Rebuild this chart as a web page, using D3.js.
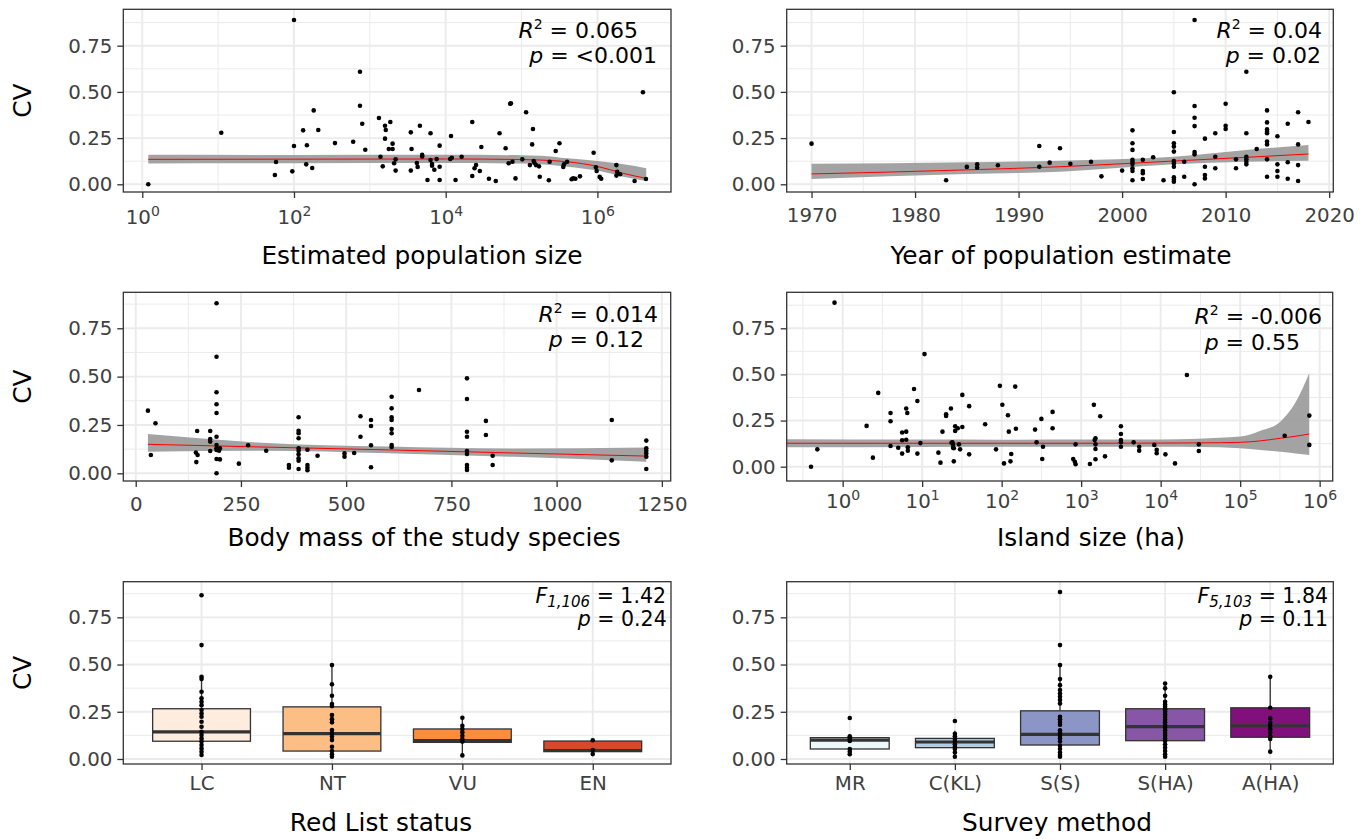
<!DOCTYPE html>
<html>
<head>
<meta charset="utf-8">
<script src="https://cdn.jsdelivr.net/npm/d3@7"></script>
<style>
body { margin: 0; background: #fff; }
text { white-space: pre; }
</style>
</head>
<body>
<script>
// ---- data ----

// panel 1: estimated population size vs CV
var popSize = [1.2, 11, 100, 56, 58, 95, 100, 132, 148, 145,
  174, 182, 209, 347, 603, 741, 741, 794, 871, 1318,
  1380, 1479, 1585, 1622, 1585, 1862, 1778, 1995, 1995, 2188,
  2089, 2188, 3467, 3548, 3467, 4169, 4266, 4571, 4898, 4898,
  5754, 6310, 6310, 6607, 6607, 7079, 7586, 8318, 8318, 8318,
  11750, 11480, 12020, 13490, 16220, 22390, 22390, 23990, 25120, 28180,
  29510, 37150, 45710, 51290, 61660, 67610, 70800, 72440, 75860, 83180,
  102300, 114800, 141300, 138000, 128800, 144500, 147900, 154900, 169800, 173800,
  229100, 234400, 281800, 316200, 354800, 363100, 398100, 457100, 478600, 512900,
  588800, 891300, 955000, 977200, 1071500, 1122000, 1778000, 1820000, 1778000, 1995000,
  3090000, 3981000, 4365000];
var popCV = [0.00, 0.279, 0.889, 0.05, 0.121, 0.07, 0.207, 0.292, 0.211, 0.108,
  0.088, 0.40, 0.294, 0.223, 0.23, 0.609, 0.425, 0.328, 0.187, 0.359,
  0.149, 0.097, 0.317, 0.294, 0.247, 0.337, 0.191, 0.22, 0.191, 0.135,
  0.114, 0.074, 0.281, 0.191, 0.074, 0.115, 0.094, 0.317, 0.159, 0.151,
  0.023, 0.276, 0.131, 0.11, 0.10, 0.079, 0.137, 0.209, 0.095, 0.023,
  0.261, 0.137, 0.144, 0.023, 0.149, 0.337, 0.045, 0.087, 0.104, 0.072,
  0.202, 0.03, 0.018, 0.276, 0.195, 0.114, 0.436, 0.438, 0.122, 0.032,
  0.135, 0.39, 0.299, 0.216, 0.104, 0.126, 0.115, 0.104, 0.097, 0.041,
  0.022, 0.122, 0.18, 0.222, 0.094, 0.108, 0.122, 0.027, 0.032, 0.03,
  0.043, 0.171, 0.092, 0.072, 0.04, 0.03, 0.104, 0.068, 0.047, 0.054,
  0.018, 0.498, 0.029];
var popFitX = [1.2, 100, 10000, 100000, 180000, 400000, 1000000, 2200000, 4400000];
var popFit = [0.135, 0.136, 0.137, 0.134, 0.131, 0.122, 0.097, 0.059, 0.032];
var popLo = [0.113, 0.114, 0.115, 0.112, 0.108, 0.095, 0.074, 0.041, 0.018];
var popHi = [0.160, 0.159, 0.160, 0.157, 0.155, 0.141, 0.126, 0.108, 0.087];

// panel 2: year of estimate vs CV
var yearX = [1970, 1983, 1985, 1986, 1986, 1988, 1992, 1992, 1993, 1994, 1995, 1997, 1998, 2000,
  2001, 2001, 2001, 2001, 2001, 2001, 2001, 2001, 2001,
  2002, 2002, 2002, 2002, 2003, 2004,
  2005, 2005, 2005, 2005, 2005, 2005, 2005, 2005, 2005, 2005, 2005,
  2006, 2006, 2007, 2007, 2007, 2007, 2007, 2007, 2007,
  2008, 2008, 2008, 2008, 2009, 2009, 2009, 2010, 2010, 2010, 2011, 2011,
  2012, 2012, 2012, 2012, 2012, 2012, 2013,
  2014, 2014, 2014, 2014, 2014, 2014, 2014, 2014, 2014,
  2015, 2015, 2015, 2015, 2016, 2016, 2016, 2017, 2017, 2017, 2017, 2018];
var yearCV = [0.22, 0.022, 0.094, 0.108, 0.09, 0.103, 0.207, 0.095, 0.117, 0.195, 0.111, 0.122, 0.043, 0.074,
  0.292, 0.222, 0.186, 0.133, 0.122, 0.110, 0.087, 0.072, 0.022,
  0.133, 0.072, 0.060, 0.029, 0.146, 0.022,
  0.498, 0.283, 0.222, 0.204, 0.177, 0.126, 0.113, 0.095, 0.038, 0.025, 0.014,
  0.122, 0.041, 0.889, 0.424, 0.36, 0.315, 0.175, 0.162, 0.0,
  0.247, 0.095, 0.05, 0.032, 0.276, 0.149, 0.087, 0.436, 0.317, 0.299, 0.135, 0.087,
  0.609, 0.276, 0.149, 0.135, 0.122, 0.108, 0.191,
  0.40, 0.335, 0.297, 0.285, 0.276, 0.231, 0.216, 0.135, 0.041,
  0.26, 0.108, 0.072, 0.041, 0.328, 0.119, 0.03, 0.39, 0.216, 0.104, 0.018, 0.337];
var yearFitX = [1970, 1985, 1994, 2005, 2012, 2018];
var yearFit = [0.056, 0.078, 0.095, 0.126, 0.146, 0.164];
var yearLo = [0.029, 0.056, 0.068, 0.108, 0.122, 0.128];
var yearHi = [0.111, 0.119, 0.128, 0.149, 0.186, 0.213];

// panel 3: body mass vs CV
var massX = [29, 47, 36, 146, 143, 147, 144, 177, 177, 177, 177,
  192, 192, 192, 192, 192, 192, 192, 192, 192, 192, 192, 200, 200, 198,
  245, 267, 310, 364, 364,
  387, 387, 387, 387, 387, 387, 387, 387, 387, 387,
  408, 408, 408, 408, 432, 496, 496, 519, 534, 534, 559, 559, 559, 559,
  608, 608, 608, 608, 608, 608, 608, 608, 673,
  787, 787, 787, 787, 787, 787, 787, 787, 787, 832, 832, 848, 848, 1131, 1131,
  1213, 1213, 1213, 1213, 1213, 1213];
var massCV = [0.324, 0.259, 0.095, 0.219, 0.107, 0.095, 0.058, 0.219, 0.177, 0.164, 0.115,
  0.879, 0.603, 0.419, 0.357, 0.312, 0.189, 0.146, 0.129, 0.121, 0.074, 0.0, 0.129, 0.072, 0.117,
  0.05, 0.145, 0.117, 0.043, 0.029,
  0.29, 0.22, 0.207, 0.181, 0.129, 0.117, 0.098, 0.078, 0.065, 0.022,
  0.122, 0.043, 0.029, 0.016, 0.091, 0.103, 0.086, 0.105, 0.295, 0.189, 0.276, 0.245, 0.145, 0.031,
  0.396, 0.336, 0.29, 0.276, 0.229, 0.207, 0.146, 0.136, 0.431,
  0.491, 0.384, 0.215, 0.189, 0.115, 0.10, 0.043, 0.029, 0.017, 0.271, 0.198, 0.091, 0.043, 0.276, 0.067,
  0.169, 0.129, 0.117, 0.103, 0.086, 0.022];
var massFitX = [29, 300, 600, 900, 1213];
var massFit = [0.150, 0.136, 0.121, 0.105, 0.089];
var massLo = [0.112, 0.117, 0.104, 0.085, 0.060];
var massHi = [0.203, 0.158, 0.138, 0.128, 0.134];

// panel 4: island size vs CV
var islandX = [0.4, 0.48, 0.79, 2.0, 2.4, 2.8, 4.0, 4.0, 4.0, 5.0, 5.6, 5.6, 5.6,
  6.3, 6.3, 6.3, 6.5, 6.6, 6.6, 7.9, 8.7, 8.7, 9.5, 10.7, 16, 17, 18, 20, 20, 23, 25,
  26, 26, 23.4, 24, 24.5, 24.5, 25, 28, 32, 32, 29, 30, 39, 39,
  62, 85, 95, 102, 107, 120, 123, 132, 129, 148, 151,
  263, 275, 316, 331, 324, 437, 437, 851, 851, 794, 832,
  1288, 1445, 1514, 1514, 1514, 1514, 1479, 1738, 1995,
  3162, 3162, 3162, 3162, 3162, 4571, 5370, 5370, 8318, 8913, 8913,
  11480, 15140, 21380, 30200, 30200, 363000, 741000, 741000];
var islandCV = [0.0, 0.094, 0.889, 0.221, 0.049, 0.40, 0.291, 0.246, 0.112, 0.103, 0.185, 0.143, 0.071,
  0.315, 0.19, 0.146, 0.291, 0.105, 0.087, 0.421, 0.356, 0.071, 0.128, 0.61, 0.076, 0.022, 0.19, 0.284, 0.275, 0.315, 0.029,
  0.219, 0.194, 0.13, 0.132, 0.119, 0.103, 0.10, 0.208, 0.215, 0.389, 0.121, 0.094, 0.328, 0.067,
  0.23, 0.094, 0.438, 0.336, 0.018, 0.279, 0.19, 0.069, 0.029, 0.434, 0.206,
  0.201, 0.132, 0.259, 0.108, 0.042, 0.297, 0.208, 0.121, 0.013, 0.042, 0.027,
  0.015, 0.335, 0.154, 0.121, 0.096, 0.04, 0.145, 0.273, 0.056,
  0.219, 0.177, 0.145, 0.132, 0.108, 0.132, 0.108, 0.087, 0.118, 0.091, 0.073,
  0.067, 0.018, 0.497, 0.121, 0.085, 0.168, 0.277, 0.118];
var islandFitX = [0.2, 10, 100, 1000, 10000, 30000, 100000, 180000, 320000, 500000, 740000];
var islandFit = [0.127, 0.127, 0.127, 0.127, 0.128, 0.129, 0.132, 0.140, 0.154, 0.165, 0.177];
var islandLo = [0.105, 0.107, 0.108, 0.108, 0.108, 0.107, 0.100, 0.090, 0.081, 0.072, 0.063];
var islandHi = [0.149, 0.147, 0.146, 0.147, 0.148, 0.152, 0.163, 0.195, 0.244, 0.350, 0.506];

// panel 5: red list status
var rlCats = ["LC", "NT", "VU", "EN"];
var rlLow = [0.012, 0.012, 0.020, 0.026];
var rlQ1 = [0.094, 0.042, 0.088, 0.039];
var rlMed = [0.144, 0.134, 0.098, 0.045];
var rlQ3 = [0.266, 0.276, 0.159, 0.095];
var rlHigh = [0.435, 0.497, 0.218, 0.099];
var rlFill = ["#FEEDDE", "#FDBE85", "#FD8D3C", "#D9482A"];
var lcCV = [0.867, 0.603, 0.435, 0.423, 0.356, 0.321, 0.303, 0.285, 0.259, 0.241, 0.224, 0.197,
  0.171, 0.144, 0.127, 0.109, 0.092, 0.074, 0.056, 0.039, 0.021];
var ntCV = [0.497, 0.396, 0.335, 0.291, 0.28, 0.233, 0.211, 0.194, 0.153, 0.136, 0.118, 0.10,
  0.065, 0.042, 0.025, 0.012];
var vuCV = [0.218, 0.176, 0.159, 0.141, 0.123, 0.106, 0.092, 0.019];
var enCV = [0.099, 0.048, 0.026];

// panel 6: survey method
var svCats = ["MR", "C(KL)", "S(S)", "S(HA)", "A(HA)"];
var svLow = [0.025, 0.012, 0.012, 0.012, 0.039];
var svQ1 = [0.053, 0.060, 0.074, 0.097, 0.115];
var svMed = [0.100, 0.090, 0.130, 0.171, 0.176];
var svQ3 = [0.113, 0.109, 0.255, 0.266, 0.271];
var svHigh = [0.120, 0.150, 0.497, 0.400, 0.435];
var svFill = ["#EDF8FB", "#B3CDE3", "#8C96C6", "#8856A7", "#810F7C"];
var mrCV = [0.217, 0.12, 0.109, 0.095, 0.053, 0.039, 0.025];
var cklCV = [0.201, 0.134, 0.12, 0.106, 0.092, 0.078, 0.065, 0.053, 0.035, 0.012];
var ssCV = [0.884, 0.603, 0.497, 0.423, 0.391, 0.365, 0.347, 0.329, 0.312, 0.294, 0.224, 0.21,
  0.196, 0.181, 0.152, 0.137, 0.123, 0.109, 0.092, 0.07, 0.053, 0.035, 0.021, 0.012];
var shaCV = [0.40, 0.374, 0.335, 0.303, 0.289, 0.277, 0.264, 0.25, 0.236, 0.222, 0.208, 0.194,
  0.18, 0.166, 0.152, 0.137, 0.123, 0.109, 0.095, 0.078, 0.06, 0.042, 0.025, 0.012];
var ahaCV = [0.435, 0.271, 0.215, 0.192, 0.175, 0.157, 0.141, 0.12, 0.106, 0.039];

var yTicks = [0, 0.25, 0.5, 0.75];
var yMinor = [0.125, 0.375, 0.625, 0.875];
var r2Text = ["0.065", "0.04", "0.014", "-0.006"];
var pText = ["<0.001", "0.02", "0.12", "0.55", "0.24", "0.11"];

// ---- drawing ----
var FONT = "DejaVu Sans, sans-serif";
var TICK_FS = 19.8, TITLE_FS = 24.8;
var GRID = "#EBEBEB", INK = "#333333";

var svg = d3.select("body").append("svg")
  .attr("width", 1371).attr("height", 839);
svg.append("rect").attr("width", 1371).attr("height", 839).attr("fill", "white");

function drawGrid(o) {
  var g = svg.append("g");
  g.selectAll("line.xn").data(o.xMinor).enter().append("line").attr("class", "xn")
    .attr("x1", d => o.x(d)).attr("x2", d => o.x(d))
    .attr("y1", o.top).attr("y2", o.bottom)
    .attr("stroke", GRID).attr("stroke-width", 1);
  g.selectAll("line.yn").data(yMinor).enter().append("line").attr("class", "yn")
    .attr("x1", o.left).attr("x2", o.right)
    .attr("y1", d => o.y(d)).attr("y2", d => o.y(d))
    .attr("stroke", GRID).attr("stroke-width", 1);
  g.selectAll("line.xj").data(o.xMajor).enter().append("line").attr("class", "xj")
    .attr("x1", d => o.x(d)).attr("x2", d => o.x(d))
    .attr("y1", o.top).attr("y2", o.bottom)
    .attr("stroke", GRID).attr("stroke-width", 1.9);
  g.selectAll("line.yj").data(yTicks).enter().append("line").attr("class", "yj")
    .attr("x1", o.left).attr("x2", o.right)
    .attr("y1", d => o.y(d)).attr("y2", d => o.y(d))
    .attr("stroke", GRID).attr("stroke-width", 1.9);
}

function drawFrame(o) {
  svg.append("rect").attr("x", o.left).attr("y", o.top)
    .attr("width", o.right - o.left).attr("height", o.bottom - o.top)
    .attr("fill", "none").attr("stroke", INK).attr("stroke-width", 1.3);

  var ya = svg.append("g").attr("transform", "translate(" + o.left + ",0)")
    .call(d3.axisLeft(o.y).tickValues(yTicks).tickFormat(d3.format(".2f")).tickSize(6).tickPadding(5));
  var xa = svg.append("g").attr("transform", "translate(0," + o.bottom + ")")
    .call(d3.axisBottom(o.x).tickValues(o.xMajor).tickFormat(o.fmt || (d => d)).tickSize(6));

  [ya, xa].forEach(function(a) {
    a.select(".domain").remove();
    a.selectAll("line").attr("stroke", INK).attr("stroke-width", 1.3);
    a.selectAll("text").attr("font-family", FONT).attr("font-size", TICK_FS).attr("fill", "#404040");
  });
  xa.selectAll("text").attr("dy", null).attr("y", o.tickBase - o.bottom);

  if (o.log) {
    xa.selectAll("text").each(function(d) {
      var t = d3.select(this).text("");
      t.append("tspan").text("10");
      t.append("tspan").attr("dy", -8.5).attr("font-size", 14).text(Math.round(Math.log10(d)));
    });
  }

  svg.append("text").attr("x", o.titleX).attr("y", o.titleY)
    .attr("text-anchor", "middle").attr("font-family", FONT).attr("font-size", TITLE_FS)
    .attr("fill", "black").text(o.title);

  if (o.cv) {
    var cy = (o.top + o.bottom) / 2;
    svg.append("text").attr("transform", "translate(31," + cy + ") rotate(-90)")
      .attr("text-anchor", "middle").attr("font-family", FONT).attr("font-size", TITLE_FS)
      .attr("fill", "black").text("CV");
  }
}

// parts: [text, italic, baseline shift, font size]
function statLine(x, y, size, parts) {
  var t = svg.append("text").attr("x", x).attr("y", y).attr("text-anchor", "end")
    .attr("font-family", FONT).attr("font-size", size).attr("fill", "black");
  var cur = 0;
  parts.forEach(function(p) {
    var shift = p[2] || 0;
    var sp = t.append("tspan").attr("dy", shift - cur).text(p[0]);
    cur = shift;
    if (p[1]) sp.attr("font-style", "italic");
    if (p[3]) sp.attr("font-size", p[3]);
  });
}

function drawSmooth(o, sx, fit, lo, hi) {
  var pts = sx.map((v, i) => ({x: v, f: fit[i], lo: lo[i], hi: hi[i]}));
  svg.append("path").datum(pts)
    .attr("d", d3.area().x(d => o.x(d.x)).y0(d => o.y(d.lo)).y1(d => o.y(d.hi)).curve(d3.curveMonotoneX))
    .attr("fill", "#999999").attr("opacity", 0.9);
  svg.append("path").datum(pts)
    .attr("d", d3.line().x(d => o.x(d.x)).y(d => o.y(d.f)).curve(d3.curveMonotoneX))
    .attr("fill", "none").attr("stroke", "red").attr("stroke-width", 1);
}

function drawPoints(o, xs, ys) {
  svg.append("g").selectAll("circle").data(xs).enter().append("circle")
    .attr("cx", d => o.x(d)).attr("cy", (d, i) => o.y(ys[i]))
    .attr("r", 2.3).attr("fill", "black");
}

function drawBoxes(o, cats, lo, q1, med, q3, hi, fills, groups) {
  var bw = o.x.step() * 0.75;
  var g = svg.append("g");
  var idx = d3.range(cats.length);
  g.selectAll("line.wu").data(idx).enter().append("line")
    .attr("x1", i => o.x(cats[i])).attr("x2", i => o.x(cats[i]))
    .attr("y1", i => o.y(hi[i])).attr("y2", i => o.y(q3[i]))
    .attr("stroke", INK).attr("stroke-width", 1.3);
  g.selectAll("line.wl").data(idx).enter().append("line")
    .attr("x1", i => o.x(cats[i])).attr("x2", i => o.x(cats[i]))
    .attr("y1", i => o.y(lo[i])).attr("y2", i => o.y(q1[i]))
    .attr("stroke", INK).attr("stroke-width", 1.3);
  g.selectAll("rect").data(idx).enter().append("rect")
    .attr("x", i => o.x(cats[i]) - bw / 2).attr("width", bw)
    .attr("y", i => o.y(q3[i])).attr("height", i => o.y(q1[i]) - o.y(q3[i]))
    .attr("fill", i => fills[i]).attr("stroke", INK).attr("stroke-width", 1.3);
  g.selectAll("line.md").data(idx).enter().append("line")
    .attr("x1", i => o.x(cats[i]) - bw / 2).attr("x2", i => o.x(cats[i]) + bw / 2)
    .attr("y1", i => o.y(med[i])).attr("y2", i => o.y(med[i]))
    .attr("stroke", INK).attr("stroke-width", 3.2);
  groups.forEach(function(vals, i) {
    g.append("g").selectAll("circle").data(vals).enter().append("circle")
      .attr("cx", o.x(cats[i])).attr("cy", d => o.y(d))
      .attr("r", 2.3).attr("fill", "black");
  });
}

// panel geometry
var L = [123.3, 671], R = [786.7, 1333.3];

// panel 1
var p1 = {left: L[0], right: L[1], top: 9.3, bottom: 192,
  x: d3.scaleLog().domain([Math.pow(10, -0.25), Math.pow(10, 6.97)]).range(L),
  y: d3.scaleLinear().domain([-0.0417, 0.947]).range([192, 9.3]),
  xMajor: [1, 1e2, 1e4, 1e6], xMinor: [10, 1e3, 1e5], log: true,
  tickBase: 224, title: "Estimated population size", titleX: 422, titleY: 264, cv: true};
drawGrid(p1);
drawSmooth(p1, popFitX, popFit, popLo, popHi);
drawPoints(p1, popSize, popCV);
drawFrame(p1);
statLine(638, 38.3, 22, [["R", true], ["2", false, -9, 14], [" = " + r2Text[0], false, 0]]);
statLine(657, 63.3, 22, [["p", true], [" = " + pText[0]]]);

// panel 2
var p2 = {left: R[0], right: R[1], top: 9.3, bottom: 192,
  x: d3.scaleLinear().domain([1967.6, 2020.4]).range(R),
  y: d3.scaleLinear().domain([-0.0417, 0.947]).range([192, 9.3]),
  xMajor: [1970, 1980, 1990, 2000, 2010, 2020], xMinor: [1975, 1985, 1995, 2005, 2015],
  fmt: d3.format("d"),
  tickBase: 221.5, title: "Year of population estimate", titleX: 1061, titleY: 264};
drawGrid(p2);
drawSmooth(p2, yearFitX, yearFit, yearLo, yearHi);
drawPoints(p2, yearX, yearCV);
drawFrame(p2);
statLine(1322, 38.3, 22, [["R", true], ["2", false, -9, 14], [" = " + r2Text[1], false, 0]]);
statLine(1321, 63.3, 22, [["p", true], [" = " + pText[1]]]);

// panel 3
var p3 = {left: L[0], right: 670.7, top: 292.3, bottom: 481,
  x: d3.scaleLinear().domain([-29.5, 1271]).range([L[0], 670.7]),
  y: d3.scaleLinear().domain([-0.0398, 0.936]).range([481, 292.3]),
  xMajor: [0, 250, 500, 750, 1000, 1250], xMinor: [125, 375, 625, 875, 1125],
  fmt: d3.format("d"),
  tickBase: 510.5, title: "Body mass of the study species", titleX: 424, titleY: 546, cv: true};
drawGrid(p3);
drawSmooth(p3, massFitX, massFit, massLo, massHi);
drawPoints(p3, massX, massCV);
drawFrame(p3);
statLine(658, 321.7, 22, [["R", true], ["2", false, -9, 14], [" = " + r2Text[2], false, 0]]);
statLine(644, 346.7, 22, [["p", true], [" = " + pText[2]]]);

// panel 4
var p4 = {left: R[0], right: 1332.7, top: 292.3, bottom: 481,
  x: d3.scaleLog().domain([Math.pow(10, -0.704), Math.pow(10, 6.164)]).range([R[0], 1332.7]),
  y: d3.scaleLinear().domain([-0.0775, 0.945]).range([481, 292.3]),
  xMajor: [1, 10, 1e2, 1e3, 1e4, 1e5, 1e6],
  xMinor: [-0.5, 0.5, 1.5, 2.5, 3.5, 4.5, 5.5].map(e => Math.pow(10, e)), log: true,
  tickBase: 508, title: "Island size (ha)", titleX: 1091, titleY: 546};
drawGrid(p4);
drawSmooth(p4, islandFitX, islandFit, islandLo, islandHi);
drawPoints(p4, islandX, islandCV);
drawFrame(p4);
statLine(1322, 324, 22, [["R", true], ["2", false, -9, 14], [" = " + r2Text[3], false, 0]]);
statLine(1300, 350, 22, [["p", true], [" = " + pText[3]]]);

// panel 5
var p5 = {left: L[0], right: L[1], top: 581.7, bottom: 764,
  x: d3.scalePoint().domain(rlCats).range(L).padding(0.6),
  y: d3.scaleLinear().domain([-0.0265, 0.9386]).range([764, 581.7]),
  xMajor: rlCats, xMinor: [],
  tickBase: 789.5, title: "Red List status", titleX: 381, titleY: 831, cv: true};
drawGrid(p5);
drawBoxes(p5, rlCats, rlLow, rlQ1, rlMed, rlQ3, rlHigh, rlFill, [lcCV, ntCV, vuCV, enCV]);
drawFrame(p5);
statLine(666, 603.3, 20.5, [["F", true], ["1,106", true, 3.5, 15], [" = 1.42", false, 0]]);
statLine(666.7, 626, 20.5, [["p", true], [" = " + pText[4]]]);

// panel 6
var p6 = {left: R[0], right: R[1], top: 581.7, bottom: 764,
  x: d3.scalePoint().domain(svCats).range(R).padding(0.6),
  y: d3.scaleLinear().domain([-0.0265, 0.9386]).range([764, 581.7]),
  xMajor: svCats, xMinor: [],
  tickBase: 789.5, title: "Survey method", titleX: 1057, titleY: 831};
drawGrid(p6);
drawBoxes(p6, svCats, svLow, svQ1, svMed, svQ3, svHigh, svFill, [mrCV, cklCV, ssCV, shaCV, ahaCV]);
drawFrame(p6);
statLine(1328, 603.3, 20.5, [["F", true], ["5,103", true, 3.5, 15], [" = 1.84", false, 0]]);
statLine(1328, 626, 20.5, [["p", true], [" = " + pText[5]]]);
</script>
</body>
</html>
